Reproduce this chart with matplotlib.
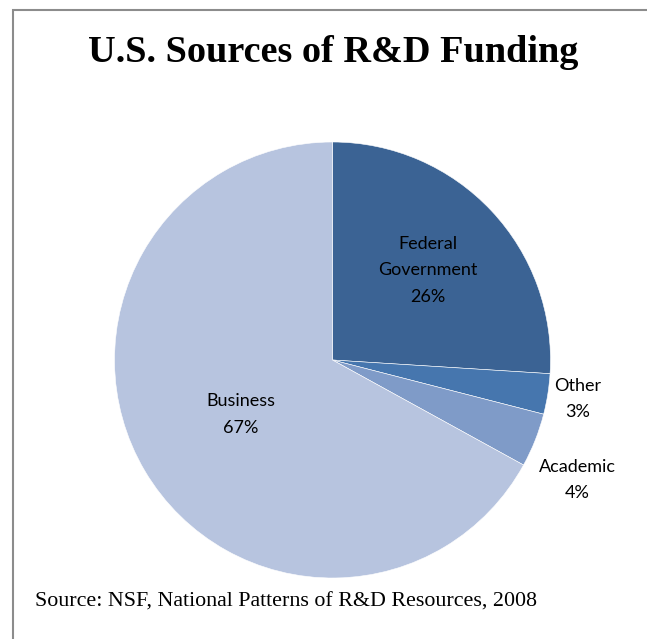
import numpy as np
import matplotlib.pyplot as plt
from matplotlib.patches import Rectangle

# data
sources = ["Federal\nGovernment", "Other", "Academic", "Business"]
shares = [26, 3, 4, 67]
colors = ["#3B6394", "#4676AE", "#7F9BC8", "#B7C4DF"]

title = "U.S. Sources of R&D Funding"
source_note = "Source: NSF, National Patterns of R&D Resources, 2008"

W, H = 647, 639
fig = plt.figure(figsize=(W / 100, H / 100), dpi=100)

# gray frame, cut off at right and bottom like the screenshot
fig.patches.append(
    Rectangle((13 / W, -0.05), 1.1, 1 - 10 / H + 0.05, transform=fig.transFigure,
              fill=False, edgecolor="#8c8c8c", linewidth=1.5)
)

cx, cy, r = 332.5, H - 360, 218
ax = fig.add_axes([(cx - r) / W, (cy - r) / H, 2 * r / W, 2 * r / H])
wedges, _ = ax.pie(shares, colors=colors, startangle=90, counterclock=False,
                   radius=1.0, wedgeprops=dict(edgecolor="white", linewidth=0.4))
ax.set_xlim(-1, 1)
ax.set_ylim(-1, 1)
ax.set_aspect("equal")
ax.axis("off")

# label radius / angle tweak per slice (Excel-ish best fit)
label_r = [0.6, 1.14, 1.25, 0.49]
label_shift = [0, 0, -4.5, 0]
for w, name, val, lr, sh in zip(wedges, sources, shares, label_r, label_shift):
    mid = np.deg2rad((w.theta1 + w.theta2) / 2 + sh)
    ax.text(lr * np.cos(mid), lr * np.sin(mid), f"{name}\n{val}%",
            ha="center", va="center", fontsize=13, family="Lato",
            linespacing=1.8, color="black", clip_on=False)

fig.text(333 / W, 1 - 52 / H, title, ha="center", va="center",
         fontsize=27.5, fontweight="bold", family="Liberation Serif")
fig.text(35 / W, 1 - 602 / H, source_note, ha="left", va="center",
         fontsize=15.8, family="Liberation Serif")

fig.savefig("out.png", dpi=100)
